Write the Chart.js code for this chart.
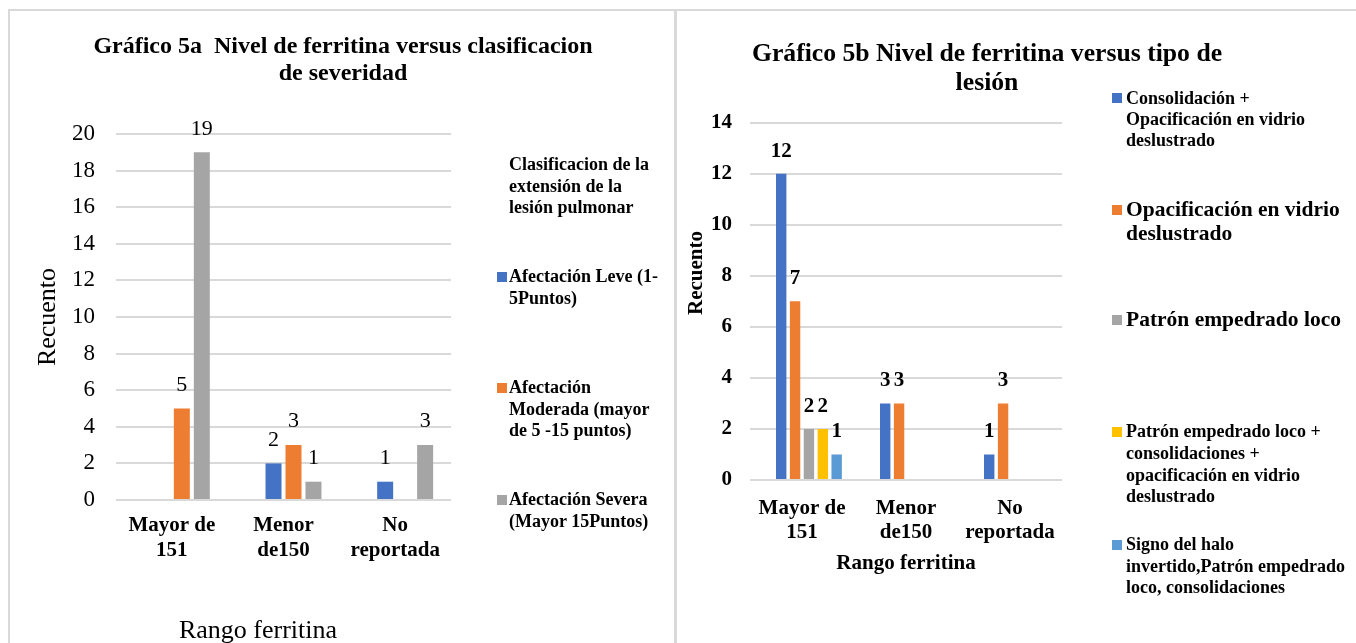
<!DOCTYPE html>
<html lang="es">
<head>
<meta charset="utf-8">
<title>Nivel de ferritina</title>
<script src="https://cdn.jsdelivr.net/npm/chart.js@4.4.1/dist/chart.umd.min.js"></script>
<style>
  html, body { margin: 0; padding: 0; background: #fff; }
  body {
    width: 1356px; height: 643px; position: relative; overflow: hidden;
    font-family: "Liberation Serif", "Times New Roman", serif; color: #000;
  }
  .rule { position: absolute; background: #d9d9d9; }
  canvas { position: absolute; }
  #grafico5a { left: 10px; top: 11px; }
  #grafico5b { left: 677px; top: 11px; }
  .titulo {
    position: absolute; font-weight: bold; text-align: center;
    white-space: pre; transform: translateX(-50%);
  }
  .eje { position: absolute; white-space: nowrap; }
  .leyenda { position: absolute; font-weight: bold; white-space: pre; }
  .muestra { position: absolute; width: 10px; height: 10px; }
</style>
</head>
<body>
<div class="rule" style="left:8px;top:9px;width:1348px;height:2px"></div>
<div class="rule" style="left:8px;top:9px;width:2px;height:634px"></div>
<div class="rule" style="left:674px;top:9px;width:3px;height:634px"></div>

<canvas id="grafico5a" width="664" height="632"></canvas>
<canvas id="grafico5b" width="679" height="632"></canvas>

<div class="titulo" style="left:343px;top:32px;font-size:24px;line-height:27px">Gráfico 5a  Nivel de ferritina versus clasificacion
de severidad</div>
<div class="titulo" style="left:987px;top:38px;font-size:25.7px;line-height:29px">Gráfico 5b Nivel de ferritina versus tipo de
lesión</div>

<div class="eje" style="left:258px;top:615px;font-size:26px;line-height:30px;transform:translateX(-50%)">Rango ferritina</div>
<div class="eje" style="left:695px;top:273px;font-size:21px;line-height:24px;font-weight:bold;transform:translate(-50%,-50%) rotate(-90deg)">Recuento</div>

<div id="leyendas"></div>

<script>
// Categorías del eje X (rango de ferritina)
const rangosFerritina = [['Mayor de', '151'], ['Menor', 'de150'], ['No', 'reportada']];

// Gráfico 5a: clasificación de la extensión de la lesión pulmonar
const tituloLeyenda5a = 'Clasificacion de la\nextensión de la\nlesión pulmonar';
const serieVacia5a = [null, null, null];          // primera serie sin recuentos
const afectacionLeve = [null, 2, 1];
const afectacionModerada = [5, 3, null];
const afectacionSevera = [19, 1, 3];
const nombres5a = [
  'Afectación Leve (1-\n5Puntos)',
  'Afectación\nModerada (mayor\nde 5 -15 puntos)',
  'Afectación Severa\n(Mayor 15Puntos)'
];
const escala5a = { min: 0, max: 20, paso: 2 };

// Gráfico 5b: tipo de lesión
const serieVacia5b = [null, null, null];          // primera serie sin recuentos
const consolidacionOpacificacion = [12, 3, 1];
const opacificacionVidrio = [7, 3, 3];
const patronEmpedrado = [2, null, null];
const empedradoConsolidacionOpacificacion = [2, null, null];
const signoHaloInvertido = [1, null, null];
const nombres5b = [
  'Consolidación +\nOpacificación en vidrio\ndeslustrado',
  'Opacificación en vidrio\ndeslustrado',
  'Patrón empedrado loco',
  'Patrón empedrado loco +\nconsolidaciones +\nopacificación en vidrio\ndeslustrado',
  'Signo del halo\ninvertido,Patrón empedrado\nloco, consolidaciones'
];
const escala5b = { min: 0, max: 14, paso: 2 };

// Colores de las series
const colores5a = ['#4472C4', '#ED7D31', '#A5A5A5'];
const colores5b = ['#4472C4', '#ED7D31', '#A5A5A5', '#FFC000', '#5B9BD5'];

const FAMILIA = '"Liberation Serif", "Times New Roman", serif';
Chart.defaults.font.family = FAMILIA;
Chart.defaults.color = '#000';

// Escribe el valor encima de cada barra
const etiquetasValor = {
  id: 'etiquetasValor',
  afterDatasetsDraw(chart, args, opts) {
    const ctx = chart.ctx;
    ctx.save();
    ctx.font = opts.font;
    ctx.fillStyle = '#000';
    ctx.textAlign = 'center';
    ctx.textBaseline = 'middle';
    chart.data.datasets.forEach((ds, i) => {
      const meta = chart.getDatasetMeta(i);
      meta.data.forEach((barra, j) => {
        const v = ds.data[j];
        if (v === null || v === undefined) return;
        ctx.fillText(String(v), barra.x, barra.y - opts.separacion);
      });
    });
    ctx.restore();
  }
};

function unaLinea(s) { return s.replace(/\n/g, ' '); }

new Chart(document.getElementById('grafico5a'), {
  type: 'bar',
  data: {
    labels: rangosFerritina,
    datasets: [
      { label: '', data: serieVacia5a, backgroundColor: 'rgba(0,0,0,0)' },
      { label: unaLinea(nombres5a[0]), data: afectacionLeve, backgroundColor: colores5a[0] },
      { label: unaLinea(nombres5a[1]), data: afectacionModerada, backgroundColor: colores5a[1] },
      { label: unaLinea(nombres5a[2]), data: afectacionSevera, backgroundColor: colores5a[2] }
    ]
  },
  plugins: [etiquetasValor],
  options: {
    responsive: false,
    animation: false,
    layout: { padding: { left: 0, top: 123, right: 223, bottom: 0 } },
    datasets: { bar: { categoryPercentage: 0.716, barPercentage: 0.8 } },
    plugins: {
      legend: { display: false },
      title: { display: false },
      tooltip: { enabled: false },
      etiquetasValor: { font: '22px ' + FAMILIA, separacion: 23.5 }
    },
    scales: {
      x: {
        grid: { display: false },
        border: { display: false },
        ticks: {
          autoSkip: false, maxRotation: 0, padding: 5,
          font: { size: 21, weight: 'bold', lineHeight: 1.2 }
        },
        afterFit(s) { s.height = 143; }
      },
      y: {
        min: escala5a.min, max: escala5a.max,
        grid: { color: '#d9d9d9', lineWidth: 2, drawTicks: false },
        border: { display: false },
        ticks: { stepSize: escala5a.paso, padding: 21, font: { size: 23 } },
        title: {
          display: true, text: 'Recuento',
          font: { size: 26, lineHeight: 1.2 }, padding: { top: 23, bottom: 0 }
        },
        afterFit(s) { s.width = 106; }
      }
    }
  }
});

new Chart(document.getElementById('grafico5b'), {
  type: 'bar',
  data: {
    labels: rangosFerritina,
    datasets: [
      { label: '', data: serieVacia5b, backgroundColor: 'rgba(0,0,0,0)' },
      { label: unaLinea(nombres5b[0]), data: consolidacionOpacificacion, backgroundColor: colores5b[0] },
      { label: unaLinea(nombres5b[1]), data: opacificacionVidrio, backgroundColor: colores5b[1] },
      { label: unaLinea(nombres5b[2]), data: patronEmpedrado, backgroundColor: colores5b[2] },
      { label: unaLinea(nombres5b[3]), data: empedradoConsolidacionOpacificacion, backgroundColor: colores5b[3] },
      { label: unaLinea(nombres5b[4]), data: signoHaloInvertido, backgroundColor: colores5b[4] }
    ]
  },
  plugins: [etiquetasValor],
  options: {
    responsive: false,
    animation: false,
    layout: { padding: { left: 0, top: 111.7, right: 294, bottom: 67 } },
    datasets: { bar: { categoryPercentage: 0.8, barPercentage: 0.75 } },
    plugins: {
      legend: { display: false },
      title: { display: false },
      tooltip: { enabled: false },
      etiquetasValor: { font: 'bold 21px ' + FAMILIA, separacion: 22.5 }
    },
    scales: {
      x: {
        grid: { display: false },
        border: { display: false },
        ticks: {
          autoSkip: false, maxRotation: 0, padding: 9.5,
          font: { size: 21, weight: 'bold', lineHeight: 1.1 }
        },
        title: {
          display: true, text: 'Rango ferritina',
          font: { size: 21, weight: 'bold', lineHeight: 1.2 }, padding: { top: 0, bottom: 0 }
        },
        afterFit(s) { s.height = 96; }
      },
      y: {
        min: escala5b.min, max: escala5b.max,
        grid: { color: '#d9d9d9', lineWidth: 2, drawTicks: false },
        border: { display: false },
        ticks: { stepSize: escala5b.paso, padding: 18, font: { size: 21, weight: 'bold' } },
        afterFit(s) { s.width = 73; }
      }
    }
  }
});

// Leyendas a la derecha de cada gráfico
const contenedor = document.getElementById('leyendas');
function texto(contenido, x, yCentro, tam, alto) {
  const d = document.createElement('div');
  d.className = 'leyenda';
  d.textContent = contenido;
  d.style.left = x + 'px';
  d.style.top = (yCentro - alto / 2) + 'px';
  d.style.fontSize = tam + 'px';
  d.style.lineHeight = alto + 'px';
  contenedor.appendChild(d);
}
function muestra(color, x, yCentro) {
  const m = document.createElement('div');
  m.className = 'muestra';
  m.style.background = color;
  m.style.left = x + 'px';
  m.style.top = (yCentro - 5) + 'px';
  contenedor.appendChild(m);
}

texto(tituloLeyenda5a, 509, 165, 18, 21.5);
const filas5a = [277, 388, 500];
nombres5a.forEach((n, i) => {
  muestra(colores5a[i], 497, filas5a[i]);
  texto(n, 509, filas5a[i], 18, 21.5);
});

const filas5b = [98, 210, 320, 432, 545];
const tamanos5b = [18, 21.5, 21.5, 18, 18];
const altos5b = [21, 23.5, 23.5, 21.7, 21.5];
nombres5b.forEach((n, i) => {
  muestra(colores5b[i], 1112, filas5b[i]);
  texto(n, 1126, filas5b[i], tamanos5b[i], altos5b[i]);
});
</script>
</body>
</html>
